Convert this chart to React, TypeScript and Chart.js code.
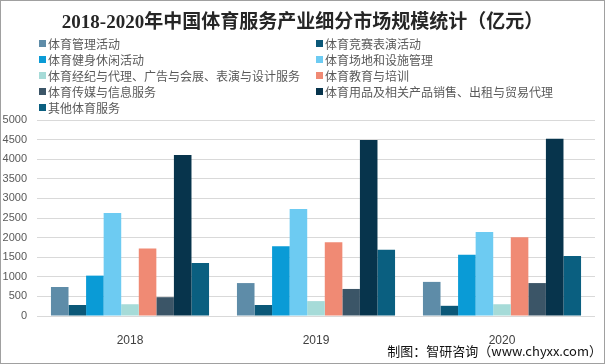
import React, { useEffect, useRef } from "react";
import { Chart, registerables } from "chart.js";

Chart.register(...registerables);

const years = ["2018", "2019", "2020"];
const seriesNames = [
  "体育管理活动",
  "体育竞赛表演活动",
  "体育健身休闲活动",
  "体育场地和设施管理",
  "体育经纪与代理、广告与会展、表演与设计服务",
  "体育教育与培训",
  "体育传媒与信息服务",
  "体育用品及相关产品销售、出租与贸易代理",
  "其他体育服务",
];
const guanli = [740, 840, 870];
const jingsai = [280, 280, 260];
const jianshen = [1030, 1780, 1560];
const changdi = [2630, 2730, 2140];
const jingji = [300, 380, 300];
const jiaoyu = [1720, 1880, 2010];
const chuanmei = [480, 690, 840];
const yongpin = [4110, 4490, 4520];
const qita = [1350, 1690, 1530];
const seriesValues = [guanli, jingsai, jianshen, changdi, jingji, jiaoyu, chuanmei, yongpin, qita];
const seriesColors = [
  "#5e8ca8",
  "#0b5878",
  "#0a9bd6",
  "#6dcbf2",
  "#a6dbd8",
  "#f08a74",
  "#3b5567",
  "#07344c",
  "#0a5f80",
];
const yTicks = [0, 500, 1000, 1500, 2000, 2500, 3000, 3500, 4000, 4500, 5000];

export default function App() {
  const ref = useRef<HTMLCanvasElement | null>(null);
  useEffect(() => {
    document.body.style.margin = "0";
    const ctx = ref.current!;
    const chart = new Chart(ctx, {
      type: "bar",
      data: {
        labels: years,
        datasets: seriesNames.map((n, i) => ({
          label: n,
          data: seriesValues[i],
          backgroundColor: seriesColors[i],
          borderWidth: 0,
          barPercentage: 1,
          categoryPercentage: 0.85,
        })),
      },
      options: {
        responsive: false,
        animation: false,
        devicePixelRatio: 1,
        layout: { padding: { top: 120, right: 10, left: 0, bottom: 0 } },
        plugins: { legend: { display: false }, title: { display: false }, tooltip: { enabled: false } },
        scales: {
          x: {
            grid: { display: false },
            border: { display: false },
            ticks: { color: "#404040", font: { family: "Liberation Sans", size: 12 }, padding: 9 },
            afterFit: (s: any) => { s.height = 48; },
          },
          y: {
            min: 0,
            max: 5000,
            afterBuildTicks: (s: any) => { s.ticks = yTicks.map((v) => ({ value: v })); },
            grid: { color: "#d9d9d9", drawTicks: false, lineWidth: 1 },
            border: { display: false },
            ticks: {
              color: "#595959",
              font: { family: "Liberation Sans", size: 11 },
              padding: 10,
              callback: (v: any) => String(v),
            },
            afterFit: (s: any) => { s.width = 37; },
          },
        },
      },
    });
    return () => chart.destroy();
  }, []);

  const legendItem = (i: number, x: number, y: number) => (
    <div
      key={i}
      style={{
        position: "absolute",
        left: x,
        top: y - 8,
        height: 16,
        display: "flex",
        alignItems: "center",
        whiteSpace: "nowrap",
        fontFamily: "'Noto Sans CJK SC', sans-serif",
        fontSize: 12,
        color: "#595959",
      }}
    >
      <span style={{ width: 7, height: 7, background: seriesColors[i], marginRight: 2, display: "inline-block" }} />
      <span>{seriesNames[i]}</span>
    </div>
  );

  const rows = [43, 59, 75, 91, 107];
  return (
    <div style={{ position: "relative", width: 605, height: 364, boxSizing: "border-box", overflow: "hidden" }}>
      <canvas ref={ref} width={605} height={364} style={{ position: "absolute", left: 0, top: 0 }} />
      <div
        style={{
          position: "absolute",
          left: 0,
          width: 605,
          top: 10,
          textAlign: "center",
          fontFamily: "'Liberation Serif', 'Noto Sans CJK SC', serif",
          fontWeight: "bold",
          fontSize: 19,
          color: "#262626",
          lineHeight: "24px",
        }}
      >
        2018-2020年中国体育服务产业细分市场规模统计（亿元）
      </div>
      {seriesNames.map((_, i) => legendItem(i, i % 2 === 0 ? 39 : 316, rows[Math.floor(i / 2)]))}
      <div
        style={{
          position: "absolute",
          right: 3,
          top: 342,
          fontFamily: "'Noto Sans CJK SC', sans-serif",
          fontSize: 13,
          color: "#111",
          whiteSpace: "nowrap",
          lineHeight: "18px",
        }}
      >
        制图：智研咨询（www.chyxx.com）
      </div>
      <div style={{ position: "absolute", inset: 0, border: "1px solid #a0a0a0", pointerEvents: "none" }} />
    </div>
  );
}
